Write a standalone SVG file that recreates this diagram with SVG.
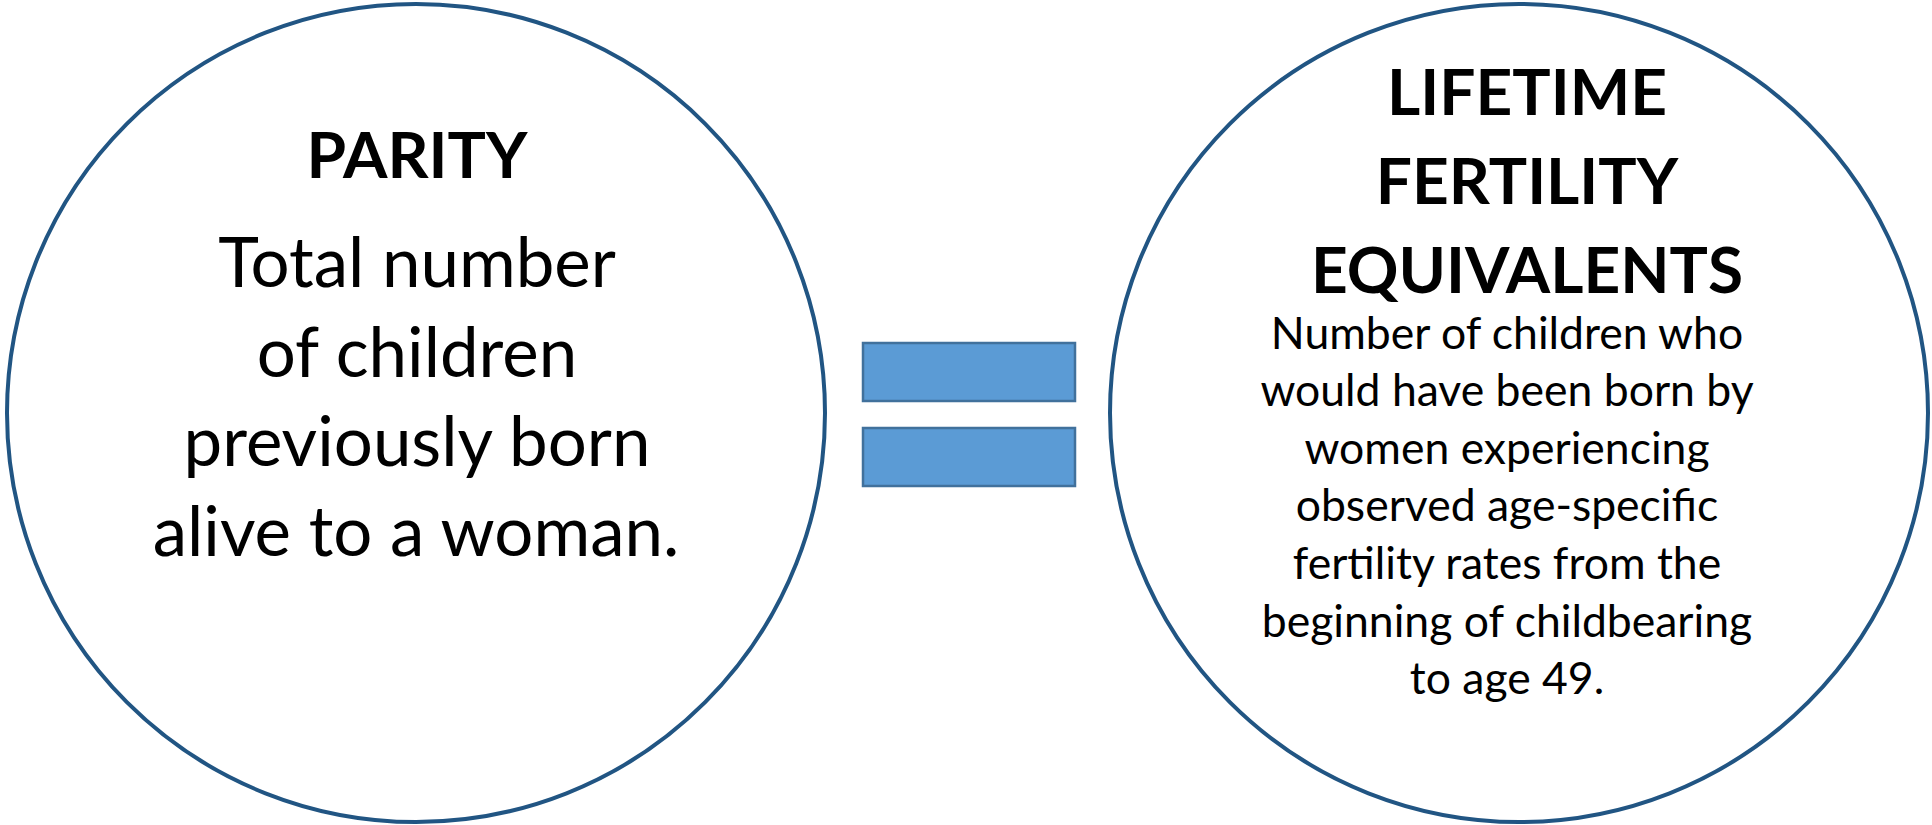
<svg xmlns="http://www.w3.org/2000/svg" width="1932" height="825" viewBox="0 0 1932 825">
<style>
.circ{fill:#fff;stroke:#215583;stroke-width:4}
.bar{fill:#5B9BD5;stroke:#41719C;stroke-width:2.5}
text{font-family:Lato,"Liberation Sans",sans-serif;fill:#000;text-anchor:middle}
.t{font-size:64px;font-weight:bold}
.b{font-size:69px}
.s{font-size:44.5px}
</style>
<rect width="1932" height="825" fill="#fff"/>
<g id="parity">
<circle class="circ" cx="416" cy="413" r="409"/>
<text class="t" x="417" y="178">PARITY</text>
<text class="b" x="417" y="287">Total number</text>
<text class="b" x="417" y="377">of children</text>
<text class="b" x="417" y="466">previously born</text>
<text class="b" x="416" y="556">alive to a woman.</text>
</g>
<g id="equals">
<rect class="bar" x="863" y="343" width="212" height="58"/>
<rect class="bar" x="863" y="428" width="212" height="58"/>
</g>
<g id="lfe">
<circle class="circ" cx="1519" cy="413" r="409"/>
<text class="t" x="1527" y="115">LIFETIME</text>
<text class="t" x="1527" y="204">FERTILITY</text>
<text class="t" x="1527" y="293">EQUIVALENTS</text>
<text class="s" x="1507" y="349">Number of children who</text>
<text class="s" x="1507" y="406">would have been born by</text>
<text class="s" x="1507" y="464">women experiencing</text>
<text class="s" x="1507" y="521">observed age-specific</text>
<text class="s" x="1507" y="579">fertility rates from the</text>
<text class="s" x="1507" y="637">beginning of childbearing</text>
<text class="s" x="1507" y="694">to age 49.</text>
</g>
<g id="connectors"></g>
</svg>
